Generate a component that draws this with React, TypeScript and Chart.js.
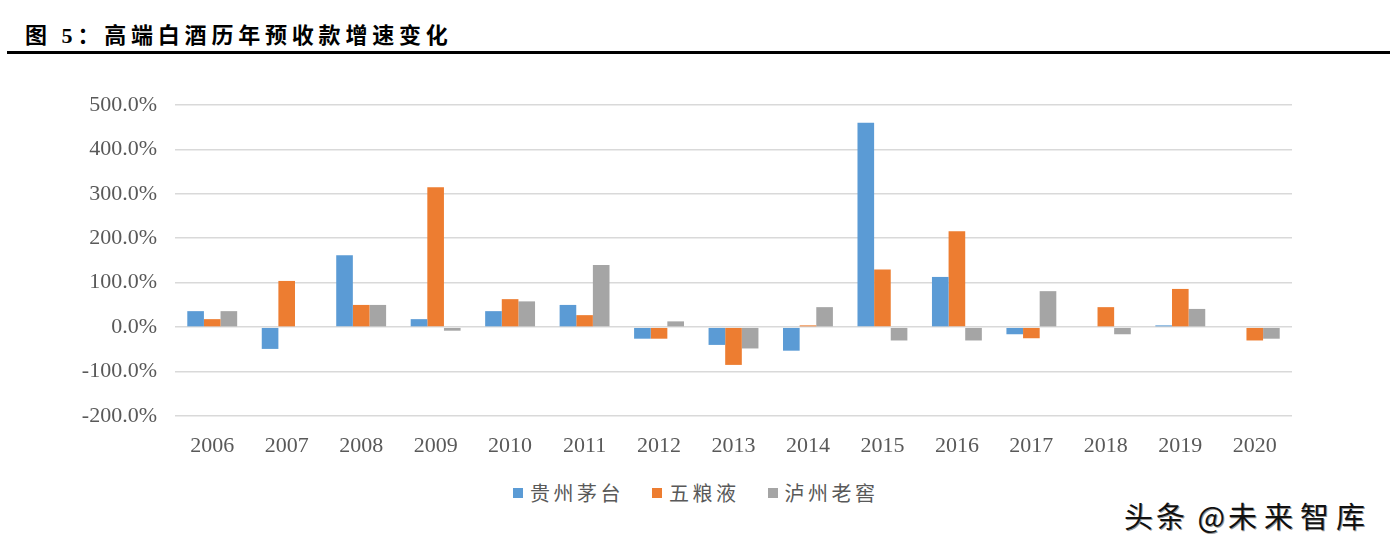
import React, { useEffect, useRef } from "react";
import { Chart, registerables } from "chart.js";

Chart.register(...registerables);

const years = ["2006","2007","2008","2009","2010","2011","2012","2013","2014","2015","2016","2017","2018","2019","2020"];
const moutai = [36, -49, 162, 18, 36, 50, -26, -40, -53, 460, 113, -16, 0, 4, 0];
const wuliangye = [18, 104, 50, 315, 63, 27, -26, -85, 4, 130, 216, -25, 45, 86, -30];
const luzhou = [36, 0, 50, -8, 58, 140, 13, -48, 45, -30, -30, 81, -16, 41, -26];
const seriesNames = ["贵州茅台", "五粮液", "泸州老窖"];
const seriesColors = ["#5b9bd5", "#ed7d31", "#a5a5a5"];
const yMin = -200;
const yMax = 500;
const yStep = 100;

export default function App() {
  const ref = useRef<HTMLCanvasElement | null>(null);
  useEffect(() => {
    if (!ref.current) return;
    const chart = new Chart(ref.current, {
      type: "bar",
      data: {
        labels: years,
        datasets: [moutai, wuliangye, luzhou].map((d, i) => ({
          label: seriesNames[i],
          data: d,
          backgroundColor: seriesColors[i],
          borderWidth: 0,
          categoryPercentage: 0.67,
          barPercentage: 1,
        })),
      },
      options: {
        responsive: false,
        animation: false,
        layout: { padding: { top: 35, right: 104, left: 0, bottom: 0 } },
        plugins: { legend: { display: false }, tooltip: { enabled: false } },
        scales: {
          x: {
            grid: { display: false },
            border: { display: false },
            ticks: {
              color: "#595959",
              font: { family: "'Liberation Serif', serif", size: 22 },
              padding: 9,
              maxRotation: 0,
            },
            afterFit: (s: any) => { s.height = 44; },
          },
          y: {
            min: yMin,
            max: yMax,
            grid: { color: "#d9d9d9", lineWidth: 1.6, drawTicks: false },
            border: { display: false },
            ticks: {
              stepSize: yStep,
              color: "#595959",
              font: { family: "'Liberation Serif', serif", size: 22 },
              padding: 18,
              callback: (v: any) => Number(v).toFixed(1) + "%",
            },
            afterFit: (s: any) => { s.width = 175; },
          },
        },
      },
    });
    return () => chart.destroy();
  }, []);

  const legendItem = (i: number) => (
    <div key={i} style={{ display: "flex", alignItems: "center", marginRight: 28 }}>
      <div style={{ width: 10, height: 10, background: seriesColors[i], marginRight: 7 }} />
      <span style={{ fontFamily: "'Noto Sans CJK SC', sans-serif", fontSize: 20, letterSpacing: 3.5, color: "#595959" }}>
        {seriesNames[i]}
      </span>
    </div>
  );

  return (
    <div style={{ position: "absolute", left: 0, top: 0, width: 1396, height: 547, background: "#fff", overflow: "hidden" }}>
      <div style={{ position: "absolute", left: 25, top: 18, fontFamily: "'Noto Sans CJK SC', sans-serif", fontWeight: 700, fontSize: 22, letterSpacing: 4.8, color: "#000", lineHeight: "30px", whiteSpace: "nowrap" }}>
        图 <span style={{ fontFamily: "'Liberation Serif', serif" }}>5</span>：高端白酒历年预收款增速变化
      </div>
      <div style={{ position: "absolute", left: 7, top: 51, width: 1383, height: 3, background: "#000" }} />
      <canvas ref={ref} width={1396} height={390} style={{ position: "absolute", left: 0, top: 70, width: 1396, height: 390 }} />
      <div style={{ position: "absolute", left: 513, top: 478, display: "flex", alignItems: "center" }}>
        {[0, 1, 2].map(legendItem)}
      </div>
      <div style={{ position: "absolute", left: 1124, top: 495, fontFamily: "'Noto Sans CJK SC', sans-serif", fontSize: 29, lineHeight: "40px", letterSpacing: 3, color: "#111", whiteSpace: "nowrap", textShadow: "1px 1px 0 #999" }}>
        头条 @<span style={{ letterSpacing: 7 }}>未来智库</span>
      </div>
    </div>
  );
}
